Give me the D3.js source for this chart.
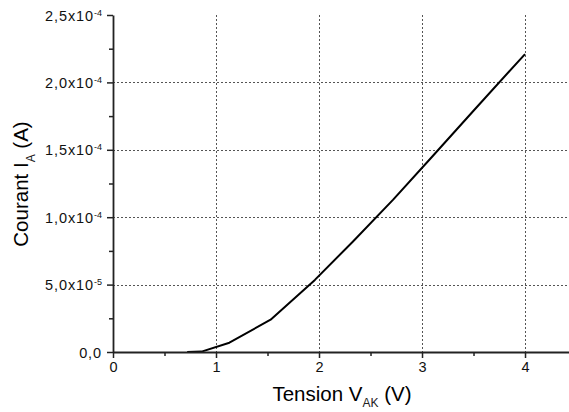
<!DOCTYPE html>
<html><head><meta charset="utf-8">
<script src="https://cdn.jsdelivr.net/npm/d3@7"></script>
<style>
html,body{margin:0;padding:0;background:#fff;}
svg{display:block;font-family:"Liberation Sans",Arial,sans-serif;}
</style></head>
<body>
<svg id="chart" width="569" height="412"></svg>
<script>
// Data (Tension V_AK in V, Courant I_A in A)
const tension = [0.72, 0.86, 1.13, 1.53, 1.96, 2.33, 2.72, 3.10, 3.50, 4.00];
const courant = [0, 0.3e-6, 6.9e-6, 2.4e-5, 5.35e-5, 8.2e-5, 1.13e-4, 1.45e-4, 1.79e-4, 2.21e-4];

const xTickValues = [0, 1, 2, 3, 4];
const xTickLabels = ["0", "1", "2", "3", "4"];
const xMinorTicks = [0.5, 1.5, 2.5, 3.5];
const yTickValues = [0, 5e-5, 1e-4, 1.5e-4, 2e-4, 2.5e-4];
const yTickBase = ["0,0", "5,0x10", "1,0x10", "1,5x10", "2,0x10", "2,5x10"];
const yTickExp = ["", "-5", "-4", "-4", "-4", "-4"];
const yMinorTicks = [2.5e-5, 7.5e-5, 1.25e-4, 1.75e-4, 2.25e-4];
const xGrid = [1, 2, 3, 4];
const yGrid = [5e-5, 1e-4, 1.5e-4, 2e-4];

const svg = d3.select("#chart");
const x = d3.scaleLinear().domain([0, 4.427]).range([113, 569]);
const y = d3.scaleLinear().domain([0, 2.5e-4]).range([352, 15]);

// grid
const grid = svg.append("g").attr("stroke", "#555").attr("stroke-width", 1).attr("stroke-dasharray", "2,2");
grid.selectAll("line.gx").data(xGrid).join("line")
  .attr("x1", d => Math.round(x(d)) + 0.5).attr("x2", d => Math.round(x(d)) + 0.5)
  .attr("y1", y(2.5e-4)).attr("y2", y(0));
grid.selectAll("line.gy").data(yGrid).join("line")
  .attr("y1", d => Math.round(y(d)) + 0.5).attr("y2", d => Math.round(y(d)) + 0.5)
  .attr("x1", x(0)).attr("x2", 569);

// curve
const line = d3.line().x((d, i) => x(tension[i])).y((d, i) => y(courant[i]));
svg.append("path").datum(courant).attr("d", line)
  .attr("fill", "none").attr("stroke", "#000").attr("stroke-width", 2).attr("stroke-linejoin", "round");

// axes
const axisColor = "#222";
const gx = svg.append("g").attr("transform", `translate(0,${y(0)})`)
  .call(d3.axisBottom(x).tickValues(xTickValues).tickSize(6).tickSizeOuter(0).tickFormat((d, i) => xTickLabels[i]));
const gxm = svg.append("g").attr("transform", `translate(0,${y(0)})`)
  .call(d3.axisBottom(x).tickValues(xMinorTicks).tickSize(4).tickSizeOuter(0).tickFormat(""));
gxm.select(".domain").remove();
gx.select(".domain").attr("stroke", axisColor).attr("stroke-width", 1.8);
gx.selectAll("text").attr("font-size", 14.5).attr("fill", "#111").attr("dy", "0.78em").attr("y", 9)
  .attr("font-family", "Liberation Sans, Arial, sans-serif");

const gy = svg.append("g").attr("transform", `translate(${x(0)},0)`)
  .call(d3.axisLeft(y).tickValues(yTickValues).tickSize(6).tickSizeOuter(0).tickFormat(""));
const gym = svg.append("g").attr("transform", `translate(${x(0)},0)`)
  .call(d3.axisLeft(y).tickValues(yMinorTicks).tickSize(4).tickSizeOuter(0).tickFormat(""));
gym.select(".domain").remove();
gy.select(".domain").attr("stroke", axisColor).attr("stroke-width", 1.8);
svg.selectAll("g.tick line").attr("stroke", axisColor).attr("stroke-width", 1.5);

// y tick labels with superscript
const ylab = svg.append("g").attr("font-size", 14.5).attr("fill", "#111");
yTickValues.forEach((v, i) => {
  const t = ylab.append("text").attr("x", 102).attr("y", y(v) + 5.5)
    .attr("text-anchor", "end").attr("letter-spacing", "0.9");
  t.append("tspan").text(yTickBase[i]);
  if (yTickExp[i]) {
    t.append("tspan").attr("font-size", 9).attr("dy", -5).attr("letter-spacing", "0").text(yTickExp[i]);
  }
});

// axis titles
const xt = svg.append("text").attr("x", 342).attr("y", 401).attr("text-anchor", "middle")
  .attr("font-size", 20.5).attr("fill", "#000");
xt.append("tspan").text("Tension V");
xt.append("tspan").attr("font-size", 12).attr("fill", "#222").attr("dy", 6).text("AK");
xt.append("tspan").attr("dy", -6).text(" (V)");

const yt = svg.append("text").attr("transform", "translate(28,184) rotate(-90)").attr("text-anchor", "middle")
  .attr("font-size", 20.5).attr("fill", "#000");
yt.append("tspan").text("Courant I");
yt.append("tspan").attr("font-size", 12).attr("fill", "#222").attr("dy", 7).text("A");
yt.append("tspan").attr("dy", -7).text(" (A)");
</script>
</body></html>
